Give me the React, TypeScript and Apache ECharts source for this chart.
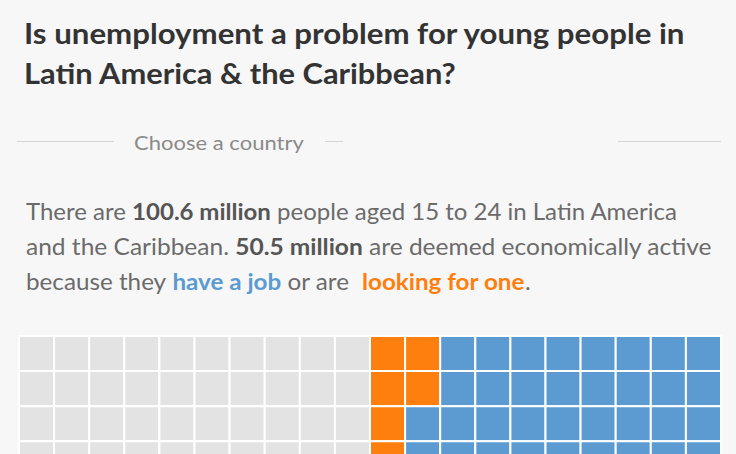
import React, { useEffect, useRef } from "react";
import * as echarts from "echarts";

// ---- Data ----
const titleLines = [
  "Is unemployment a problem for young people in",
  "Latin America & the Caribbean?",
];
const selectorLabel = "Choose a country";
const totalYouth = "100.6 million";
const activeYouth = "50.5 million";
const groups = ["Not economically active", "Looking for one", "Have a job"];
const cellCounts = [50, 7, 43];
const gridColumns = 20;
const gridRows = 5;

// ---- Style ----
const groupColors = ["#e3e3e3", "#ff7f0e", "#5b9bd1"];
const FONT = "Lato, 'Noto Sans', sans-serif";

type Seg = { t: string; k: string };
const paragraphLines: Seg[][] = [
  [
    { t: "There are ", k: "n" },
    { t: totalYouth, k: "b" },
    { t: " people aged 15 to 24 in Latin America", k: "n" },
  ],
  [
    { t: "and the Caribbean. ", k: "n" },
    { t: activeYouth, k: "b" },
    { t: " are deemed economically active", k: "n" },
  ],
  [
    { t: "because they ", k: "n" },
    { t: "have a job", k: "j" },
    { t: " or are  ", k: "n" },
    { t: "looking for one", k: "o" },
    { t: ".", k: "n" },
  ],
];

export default function App() {
  const ref = useRef<HTMLDivElement>(null);
  useEffect(() => {
    document.body.style.margin = "0";
    document.body.style.background = "#f7f7f7";
    const chart = echarts.init(ref.current!, null, { renderer: "svg" });

    const canvas = document.createElement("canvas");
    const ctx = canvas.getContext("2d")!;
    const measure = (font: string, text: string) => {
      ctx.font = font;
      return ctx.measureText(text).width;
    };

    // waffle cells, column-major fill
    const cells: number[][] = [];
    let idx = 0;
    cellCounts.forEach((count, g) => {
      for (let i = 0; i < count; i++) {
        const col = Math.floor(idx / gridRows);
        const row = idx % gridRows;
        cells.push([col, row, g]);
        idx++;
      }
    });

    // title
    const titleSize = 29;
    const titleFont = `bold ${titleSize}px ${FONT}`;
    const titleTargets = [662, 433];
    const titleMids = [32.3, 72.8];
    const titleEls = titleLines.map((line, i) => ({
      type: "text",
      x: 24,
      y: titleMids[i],
      scaleX: titleTargets[i] / measure(titleFont, line),
      style: {
        text: line,
        font: titleFont,
        fill: "#333333",
        align: "left",
        verticalAlign: "middle",
      },
    }));

    // paragraph
    const pSize = 23;
    const richDef: Record<string, any> = {
      n: { fontFamily: FONT, fontSize: pSize, fontWeight: "normal", fill: "#6b6b6b" },
      b: { fontFamily: FONT, fontSize: pSize, fontWeight: "bold", fill: "#555555" },
      j: { fontFamily: FONT, fontSize: pSize, fontWeight: "bold", fill: "#5b9bd1" },
      o: { fontFamily: FONT, fontSize: pSize, fontWeight: "bold", fill: "#ff7f0e" },
    };
    const fontOf = (k: string) =>
      `${k === "n" ? "normal" : "bold"} ${pSize}px ${FONT}`;
    const pTargets = [652, 686, 505];
    const pMids = [211.5, 246.5, 281.5];
    const paraEls = paragraphLines.map((segs, i) => {
      const w = segs.reduce((s, sg) => s + measure(fontOf(sg.k), sg.t), 0);
      return {
        type: "text",
        x: 26,
        y: pMids[i],
        scaleX: pTargets[i] / w,
        style: {
          text: segs.map((sg) => `{${sg.k}|${sg.t}}`).join(""),
          font: `normal ${pSize}px ${FONT}`,
          fill: "#6b6b6b",
          rich: richDef,
          align: "left",
          verticalAlign: "middle",
        },
      };
    });

    const selFont = `normal 20px ${FONT}`;
    const selEl = {
      type: "text",
      x: 134,
      y: 141.5,
      scaleX: 170 / measure(selFont, selectorLabel),
      style: {
        text: selectorLabel,
        font: selFont,
        fill: "#8a8a8a",
        align: "left",
        verticalAlign: "middle",
      },
    };
    const lineStyle = { stroke: "#d4d4d4", lineWidth: 1 };
    const lines = [
      [17, 114],
      [325, 343],
      [618, 721],
    ].map(([a, b]) => ({
      type: "line",
      shape: { x1: a, y1: 141.5, x2: b, y2: 141.5 },
      style: lineStyle,
    }));

    // grid: square cells of 702/20 px; only the part inside the window is shown
    const chartH = 454;
    const gridTop = 336;
    const cellPx = 702 / gridColumns;
    const visibleH = chartH - gridTop;
    const yMaxVisible = visibleH / cellPx;

    chart.setOption({
      animation: false,
      backgroundColor: "#f7f7f7",
      grid: { left: 19, right: 15, top: gridTop, bottom: 0 },
      xAxis: { type: "value", min: 0, max: gridColumns, show: false },
      yAxis: { type: "value", min: 0, max: yMaxVisible, inverse: true, show: false },
      graphic: [...titleEls, selEl, ...lines, ...paraEls],
      series: [
        {
          type: "custom",
          name: "Youth population",
          clip: false,
          data: cells,
          renderItem: (params: any, api: any) => {
            const col = api.value(0);
            const row = api.value(1);
            const g = api.value(2);
            const p0 = api.coord([col, row]);
            const p1 = api.coord([col + 1, row + 1]);
            return {
              type: "rect",
              shape: {
                x: Math.min(p0[0], p1[0]),
                y: Math.min(p0[1], p1[1]),
                width: Math.abs(p1[0] - p0[0]),
                height: Math.abs(p1[1] - p0[1]),
              },
              style: { fill: groupColors[g], stroke: "#ffffff", lineWidth: 2 },
            };
          },
        },
      ],
    });
    return () => chart.dispose();
  }, []);
  return <div ref={ref} style={{ width: 736, height: chartH0 }} />;
}
const chartH0 = 454;
